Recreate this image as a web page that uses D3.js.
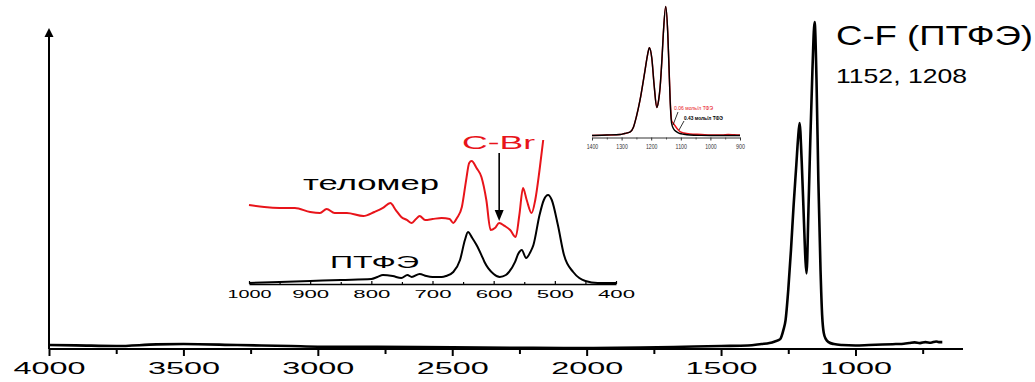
<!DOCTYPE html>
<html>
<head>
<meta charset="utf-8">
<script src="https://cdn.jsdelivr.net/npm/d3@7"></script>
<style>
  html, body { margin: 0; padding: 0; background: #fff; }
  svg { display: block; font-family: "Liberation Sans", Arial, sans-serif; }
</style>
</head>
<body>
<svg id="chart" width="1035" height="382"></svg>
<script>
// ---- Full IR spectrum of PTFE (wavenumber, cm^-1 / relative intensity) ----
const mainWavenumbers = [4000, 3900, 3750, 3600, 3500, 3300, 3100, 3000, 2800, 2500, 2200, 2000, 1800, 1600, 1500, 1400, 1350, 1320, 1300, 1280, 1268, 1260, 1250, 1240, 1230, 1220, 1214, 1208, 1200, 1192, 1186, 1182, 1175, 1168, 1160, 1152, 1145, 1138, 1130, 1124, 1118, 1110, 1100, 1080, 1050, 1000, 950, 900, 850, 820, 800, 780, 760, 740, 720, 700, 690, 677];
const mainIntensity   = [1.2, 1.1, 0.9, 1.4, 1.5, 1.2, 0.9, 0.7, 0.7, 0.5, 0.35, 0.3, 0.45, 0.75, 0.9, 1.05, 1.5, 1.8, 2.3, 3.0, 5.8, 8.8, 18, 30, 43.8, 56, 63.5, 68.7, 57, 39.5, 27, 23, 42, 63.5, 85, 99.4, 82, 51, 24, 10.3, 4.9, 3.0, 2.1, 1.5, 1.2, 1.05, 1.2, 1.35, 1.5, 1.6, 1.8, 2.0, 1.8, 2.1, 1.9, 2.3, 2.1, 2.1];
const mainTicks  = [4000, 3500, 3000, 2500, 2000, 1500, 1000];
const mainMinor  = [3750, 3250, 2750, 2250, 1750, 1250, 750];

// ---- Low-frequency region: PTFE and telomer ----
const lowWavenumbersPtfe = [1000, 950, 900, 850, 800, 790, 781, 765, 751, 741, 734, 721, 710, 700, 685, 678, 666, 655, 647, 642, 635, 628, 620, 615, 600, 590, 580, 575, 565, 560, 554, 547, 540, 535, 525, 518, 511, 505, 495, 485, 470, 460, 450, 430, 400];
const ptfeIntensity      = [0.7, 1.3, 2.0, 2.7, 3.3, 4.7, 6.0, 5.3, 4.0, 6.0, 4.7, 6.7, 5.3, 4.7, 4.7, 5.3, 8.0, 16, 29.3, 34.7, 30.7, 26, 19.3, 14.7, 6.7, 4.7, 6.0, 8.0, 14.7, 20, 22.7, 17.3, 21.3, 26, 46, 56, 59.3, 56, 39.3, 19.3, 8.0, 4.0, 2.0, 0.7, 0.7];
const lowWavenumbersTelomer = [1000, 975, 950, 925, 900, 884, 873, 860, 840, 813, 795, 781, 769, 760, 751, 742, 734, 727, 721, 712, 700, 685, 672, 666, 660, 652, 645, 640, 636, 628, 620, 612, 605, 598, 591, 582, 573, 564, 558, 552, 546, 538, 532, 525, 519];
const telomerIntensity      = [52.7, 51.3, 50.7, 50.7, 48, 47.3, 50, 47.3, 47.3, 45.3, 48, 50.7, 54, 49.3, 44.7, 42.7, 40.7, 43.3, 45.3, 42.7, 43.3, 44, 43.3, 40.7, 44, 51.3, 69.3, 80.7, 82, 77.3, 71.3, 56, 36, 37.3, 40.7, 38.7, 36, 31.3, 46, 64, 56, 47.3, 56, 76, 96];
const lowTicks = [1000, 900, 800, 700, 600, 500, 400];
const lowMinor = [950, 850, 750, 650, 550, 450];
const cBrBand = 591;

// ---- C-F stretching region at two TFE concentrations ----
const cfWavenumbers = [1400, 1350, 1305, 1290, 1272, 1260, 1250, 1238, 1221, 1212, 1206, 1198, 1190, 1181, 1175, 1170, 1163, 1159, 1151, 1144, 1140, 1136, 1131, 1125, 1120, 1110, 1103, 1090, 1069, 1030, 1000, 960, 940, 920, 900];
const cf043 = [1.5, 1.9, 2.3, 3.1, 4.1, 7.9, 16, 28.5, 51.5, 64, 69, 61, 40, 23, 28.5, 38.5, 63, 80, 100.8, 80, 55, 28.5, 10.8, 6.9, 5.4, 3.8, 3.1, 2.5, 1.9, 1.6, 1.5, 1.5, 1.5, 1.5, 1.5];
const cf006 = [1.5, 1.9, 2.3, 3.1, 4.1, 7.9, 16, 28.5, 51.5, 64, 69, 61, 40, 23, 28.5, 38.5, 63, 80, 100.8, 80, 55, 30, 13, 10.8, 9.2, 6.2, 4.6, 3.5, 2.7, 2.3, 1.9, 1.9, 2.3, 2.1, 1.9];
const cfTicks = [1400, 1300, 1200, 1100, 1000, 900];
const cfMinor = [1350, 1250, 1150, 1050, 950];

const RED = "#e8141a";
const plain = d => String(d);
const svg = d3.select("#chart");
svg.append("rect").attr("width", 1035).attr("height", 382).attr("fill", "#fff");

function zip(xs, ys) { return xs.map((x, i) => [x, ys[i]]); }

function styleAxis(g, fontSize, labelY, labelWidth, strokeW, color) {
  g.select(".domain").attr("stroke", color).attr("stroke-width", strokeW);
  g.selectAll(".tick line").attr("stroke", color).attr("stroke-width", strokeW);
  g.selectAll(".tick text")
    .attr("fill", color)
    .attr("font-size", fontSize)
    .attr("y", labelY).attr("dy", null)
    .attr("textLength", d => labelWidth(String(d)))
    .attr("lengthAdjust", "spacingAndGlyphs");
}

// ================= Main spectrum =================
const mainY0 = 349;
const x = d3.scaleLinear().domain([4000, 600]).range([49, 963]);
const y = d3.scaleLinear().domain([0, 100]).range([mainY0, 20]);

const gMainMinor = svg.append("g").attr("transform", `translate(0,${mainY0})`)
  .call(d3.axisBottom(x).tickValues(mainMinor).tickSize(5).tickSizeOuter(0).tickFormat(""));
gMainMinor.select(".domain").remove();
gMainMinor.selectAll(".tick line").attr("stroke", "#000").attr("stroke-width", 2);

const gMain = svg.append("g").attr("transform", `translate(0,${mainY0})`)
  .call(d3.axisBottom(x).tickValues(mainTicks).tickSize(7).tickSizeOuter(0).tickFormat(plain));
styleAxis(gMain, 17, 25, s => s.length * 18, 2, "#000");
gMain.select(".domain").attr("d", `M${x(4000)},0H${x(600)}`);

// vertical axis with arrowhead
svg.append("line")
  .attr("x1", x(4000)).attr("x2", x(4000))
  .attr("y1", mainY0).attr("y2", 35)
  .attr("stroke", "#000").attr("stroke-width", 2);
svg.append("path")
  .attr("d", `M${x(4000)},28 L${x(4000) - 4.5},37 L${x(4000) + 4.5},37 Z`)
  .attr("fill", "#000");

const mainLine = d3.line().x(d => x(d[0])).y(d => y(d[1])).curve(d3.curveMonotoneX);
svg.append("path")
  .datum(zip(mainWavenumbers, mainIntensity))
  .attr("d", mainLine)
  .attr("fill", "none").attr("stroke", "#000").attr("stroke-width", 2.6)
  .attr("stroke-linejoin", "round");

svg.append("text").attr("x", 836).attr("y", 45)
  .attr("font-size", 28).attr("fill", "#000")
  .attr("textLength", 197).attr("lengthAdjust", "spacingAndGlyphs")
  .text("C-F (ПТФЭ)");
svg.append("text").attr("x", 836).attr("y", 83)
  .attr("font-size", 21).attr("fill", "#000")
  .attr("textLength", 131).attr("lengthAdjust", "spacingAndGlyphs")
  .text("1152, 1208");

// ================= Inset: 1000–400 cm^-1 =================
const lowY0 = 284;
const lx = d3.scaleLinear().domain([1000, 400]).range([249, 616]);
const ly = d3.scaleLinear().domain([0, 100]).range([lowY0, 134]);

const gLowMinor = svg.append("g").attr("transform", `translate(0,${lowY0})`)
  .call(d3.axisTop(lx).tickValues(lowMinor).tickSize(2).tickSizeOuter(0).tickFormat(""));
gLowMinor.select(".domain").remove();
gLowMinor.selectAll(".tick line").attr("stroke", "#000").attr("stroke-width", 1.2);

const gLow = svg.append("g").attr("transform", `translate(0,${lowY0})`)
  .call(d3.axisBottom(lx).tickValues(lowTicks).tickSize(0).tickSizeOuter(0).tickFormat(plain));
styleAxis(gLow, 11, 14, s => s.length === 4 ? 44 : 37, 1.6, "#000");
gLow.selectAll(".tick").append("line").attr("y2", -3).attr("stroke", "#000").attr("stroke-width", 1.2);

const lowLine = d3.line().x(d => lx(d[0])).y(d => ly(d[1])).curve(d3.curveMonotoneX);
svg.append("path")
  .datum(zip(lowWavenumbersPtfe, ptfeIntensity))
  .attr("d", lowLine)
  .attr("fill", "none").attr("stroke", "#000").attr("stroke-width", 2);
svg.append("path")
  .datum(zip(lowWavenumbersTelomer, telomerIntensity))
  .attr("d", lowLine)
  .attr("fill", "none").attr("stroke", RED).attr("stroke-width", 2);

svg.append("text").attr("x", 303).attr("y", 190)
  .attr("font-size", 21).attr("fill", "#000")
  .attr("textLength", 136).attr("lengthAdjust", "spacingAndGlyphs")
  .text("теломер");
svg.append("text").attr("x", 330).attr("y", 268)
  .attr("font-size", 17).attr("fill", "#000")
  .attr("textLength", 89).attr("lengthAdjust", "spacingAndGlyphs")
  .text("ПТФЭ");
svg.append("text").attr("x", 462).attr("y", 149)
  .attr("font-size", 18).attr("fill", RED)
  .attr("textLength", 73).attr("lengthAdjust", "spacingAndGlyphs")
  .text("C-Br");

// arrow pointing to the C-Br band
const ax = lx(cBrBand);
svg.append("line").attr("x1", ax).attr("x2", ax).attr("y1", 153).attr("y2", 212)
  .attr("stroke", "#000").attr("stroke-width", 1.6);
svg.append("path").attr("d", `M${ax},221 L${ax - 4.5},210 L${ax + 4.5},210 Z`).attr("fill", "#000");

// ================= Inset: 1400–900 cm^-1 =================
const cfY0 = 137.5;
const cx = d3.scaleLinear().domain([1400, 900]).range([592, 740]);
const cy = d3.scaleLinear().domain([0, 100]).range([cfY0, 7.5]);

const gCfMinor = svg.append("g").attr("transform", `translate(0,${cfY0})`)
  .call(d3.axisBottom(cx).tickValues(cfMinor).tickSize(2).tickSizeOuter(0).tickFormat(""));
gCfMinor.select(".domain").remove();
gCfMinor.selectAll(".tick line").attr("stroke", "#333").attr("stroke-width", 0.8);

const gCf = svg.append("g").attr("transform", `translate(0,${cfY0})`)
  .call(d3.axisBottom(cx).tickValues(cfTicks).tickSize(3).tickSizeOuter(0).tickFormat(plain));
styleAxis(gCf, 6.5, 11.5, s => s.length === 4 ? 11.5 : 9, 1, "#333");

const cfLine = d3.line().x(d => cx(d[0])).y(d => cy(d[1])).curve(d3.curveMonotoneX);
svg.append("path")
  .datum(zip(cfWavenumbers, cf006))
  .attr("d", cfLine)
  .attr("fill", "none").attr("stroke", RED).attr("stroke-width", 1.5);
svg.append("path")
  .datum(zip(cfWavenumbers, cf043))
  .attr("d", cfLine)
  .attr("fill", "none").attr("stroke", "#000").attr("stroke-width", 1.4);

svg.append("text").attr("x", 674).attr("y", 110)
  .attr("font-size", 5).attr("fill", RED)
  .attr("textLength", 39).attr("lengthAdjust", "spacingAndGlyphs")
  .text("0.06 моль/л ТФЭ");
svg.append("text").attr("x", 684).attr("y", 120)
  .attr("font-size", 5).attr("font-weight", "bold").attr("fill", "#000")
  .attr("textLength", 39).attr("lengthAdjust", "spacingAndGlyphs")
  .text("0.43 моль/л ТФЭ");
svg.append("line").attr("x1", 678).attr("y1", 112).attr("x2", 673).attr("y2", 125)
  .attr("stroke", "#000").attr("stroke-width", 0.8);
svg.append("line").attr("x1", 684).attr("y1", 121).attr("x2", 679).attr("y2", 130)
  .attr("stroke", "#000").attr("stroke-width", 0.8);
</script>
</body>
</html>
